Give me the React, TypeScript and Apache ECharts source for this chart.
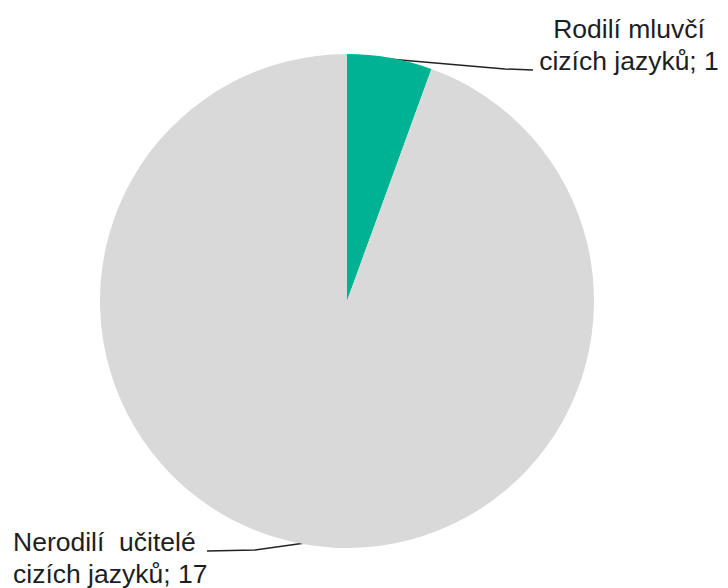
import React, { useEffect, useRef } from "react";
import * as echarts from "echarts";

const categories = ["Rodilí mluvčí\ncizích jazyků", "Nerodilí  učitelé\ncizích jazyků"];
const values = [1, 17];
const colors = ["#00B294", "#D9D9D9"];

export default function App() {
  const ref = useRef<HTMLDivElement>(null);
  useEffect(() => {
    if (!ref.current) return;
    const chart = echarts.init(ref.current, null, { renderer: "svg" });
    chart.setOption({
      animation: false,
      backgroundColor: "#ffffff",
      series: [
        {
          type: "pie",
          center: [347, 301],
          radius: [0, 247],
          startAngle: 90,
          clockwise: true,
          data: categories.map((name, i) => ({
            name,
            value: values[i],
            itemStyle: { color: colors[i] },
          })),
          itemStyle: { borderWidth: 0 },
          emphasis: { disabled: true },
          label: {
            show: true,
            formatter: (p: any) => `${p.name}; ${p.value}`,
            fontFamily: "Liberation Sans, Arial, sans-serif",
            fontSize: 26.5,
            color: "#1e1e1e",
            lineHeight: 32,
          },
          labelLine: {
            show: true,
            lineStyle: { color: "#222222", width: 1.5 },
          },
          labelLayout: (params: any) => {
            if (params.dataIndex === 0) {
              return {
                x: 629,
                y: 44.6,
                align: "center",
                verticalAlign: "middle",
                labelLinePoints: [
                  [389, 59],
                  [505, 69],
                  [533, 70],
                ],
              };
            }
            return {
              x: 13,
              y: 557.6,
              align: "left",
              verticalAlign: "middle",
              labelLinePoints: [
                [305, 543],
                [255, 550],
                [207, 551],
              ],
            };
          },
        },
      ],
    });
    return () => chart.dispose();
  }, []);
  return (
    <div
      ref={ref}
      style={{ position: "fixed", left: 0, top: 0, width: 728, height: 588 }}
    />
  );
}
